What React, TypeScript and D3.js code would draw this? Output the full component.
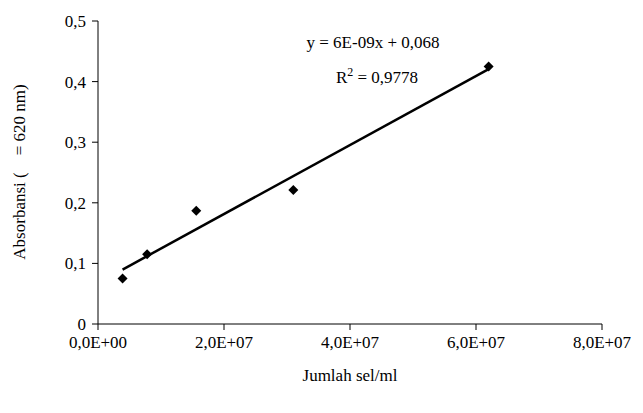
import React from "react";
import * as d3 from "d3";

const xs = [3.9e6, 7.8e6, 1.56e7, 3.1e7, 6.2e7];
const ys = [0.075, 0.115, 0.187, 0.221, 0.425];
const xTicks = [0, 2e7, 4e7, 6e7, 8e7];
const xTickLabels = ["0,0E+00", "2,0E+07", "4,0E+07", "6,0E+07", "8,0E+07"];
const yTicks = [0, 0.1, 0.2, 0.3, 0.4, 0.5];
const yTickLabels = ["0", "0,1", "0,2", "0,3", "0,4", "0,5"];

export default function App() {
  const x = d3.scaleLinear().domain([0, 8e7]).range([98, 602]);
  const y = d3.scaleLinear().domain([0, 0.5]).range([324, 21]);
  const mx = d3.mean(xs)!, my = d3.mean(ys)!;
  const b = d3.sum(xs.map((v, i) => (v - mx) * (ys[i] - my))) / d3.sum(xs.map(v => (v - mx) ** 2));
  const a = my - b * mx;
  const x0 = xs[0], x1 = xs[xs.length - 1];
  const font = "'Liberation Serif', 'Times New Roman', serif";
  return (
    <svg width={643} height={413} style={{ position: "absolute", left: 0, top: 0, background: "#fff" }} fontFamily={font}>
      <line x1={98} x2={602} y1={324} y2={324} stroke="#000" />
      <line x1={98} x2={98} y1={21} y2={324} stroke="#000" />
      {xTicks.map((t, i) => (
        <g key={i}>
          <line x1={x(t)} x2={x(t)} y1={324} y2={330} stroke="#000" />
          <text x={x(t)} y={336} fontSize={17} textAnchor="middle" dominantBaseline="hanging">{xTickLabels[i]}</text>
        </g>
      ))}
      {yTicks.map((t, i) => (
        <g key={i}>
          <line x1={92} x2={98} y1={y(t)} y2={y(t)} stroke="#000" />
          <text x={86} y={y(t) + 6} fontSize={17} textAnchor="end">{yTickLabels[i]}</text>
        </g>
      ))}
      <line x1={x(x0)} y1={y(a + b * x0)} x2={x(x1)} y2={y(a + b * x1)} stroke="#000" strokeWidth={2.5} />
      {xs.map((v, i) => (
        <path key={i} d="M0,-5L5,0L0,5L-5,0Z" transform={`translate(${x(v)},${y(ys[i])})`} fill="#000" />
      ))}
      <text x={373} y={48} fontSize={17} textAnchor="middle">y = 6E-09x + 0,068</text>
      <text x={377} y={83} fontSize={17} textAnchor="middle">R<tspan dy={-7} fontSize={12}>2</tspan><tspan dy={7}> = 0,9778</tspan></text>
      <text x={350} y={381} fontSize={17} textAnchor="middle">Jumlah sel/ml</text>
      <text transform="translate(25,172) rotate(-90)" fontSize={17} textAnchor="middle" style={{ whiteSpace: "pre" }}>Absorbansi (    = 620 nm)</text>
    </svg>
  );
}
